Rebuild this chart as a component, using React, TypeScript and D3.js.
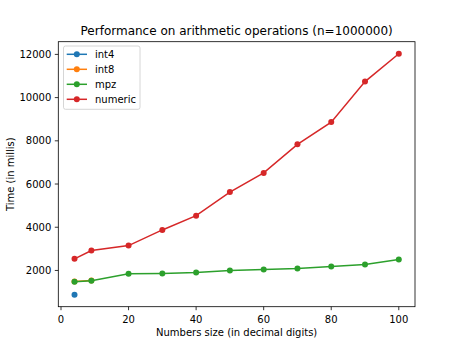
import React from "react";
import * as d3 from "d3";

const title = "Performance on arithmetic operations (n=1000000)";
const xLabel = "Numbers size (in decimal digits)";
const yLabel = "Time (in millis)";

const int4X = [4];
const int4Y = [880];
const int8X = [4, 9];
const int8Y = [1490, 1540];
const mpzX = [4, 9, 20, 30, 40, 50, 60, 70, 80, 90, 100];
const mpzY = [1479, 1525, 1848, 1862, 1908, 2000, 2046, 2092, 2184, 2276, 2507];
const numericX = [4, 9, 20, 30, 40, 50, 60, 70, 80, 90, 100];
const numericY = [2539, 2922, 3152, 3875, 4534, 5627, 6516, 7838, 8866, 10742, 12030];

const seriesNames = ["int4", "int8", "mpz", "numeric"];
const colors = ["#1f77b4", "#ff7f0e", "#2ca02c", "#d62728"];
const xTicks = [0, 20, 40, 60, 80, 100];
const yTicks = [2000, 4000, 6000, 8000, 10000, 12000];

export default function App() {
  const W = 460, H = 345;
  const left = 58.3, right = 415, top = 41.7, bottom = 306.7;
  const series = [
    { name: seriesNames[0], xs: int4X, ys: int4Y, color: colors[0] },
    { name: seriesNames[1], xs: int8X, ys: int8Y, color: colors[1] },
    { name: seriesNames[2], xs: mpzX, ys: mpzY, color: colors[2] },
    { name: seriesNames[3], xs: numericX, ys: numericY, color: colors[3] },
  ];
  const allX = series.flatMap((s) => s.xs);
  const allY = series.flatMap((s) => s.ys);
  const [x0, x1] = d3.extent(allX) as [number, number];
  const [y0, y1] = d3.extent(allY) as [number, number];
  const mx = (x1 - x0) * 0.05, my = (y1 - y0) * 0.05;
  const x = d3.scaleLinear().domain([x0 - mx, x1 + mx]).range([left, right]);
  const y = d3.scaleLinear().domain([y0 - my, y1 + my]).range([bottom, top]);
  const line = d3.line<[number, number]>().x((d) => x(d[0])).y((d) => y(d[1]));
  const font = "DejaVu Sans, sans-serif";
  const legX = 63.5, legY = 46, legW = 76.5, legH = 63.3;
  return (
    <svg width={W} height={H} style={{ position: "absolute", left: 0, top: 0 }} fontFamily={font}>
      <rect x={0} y={0} width={W} height={H} fill="#fff" />
      {series.map((s) => (
        <g key={s.name}>
          <path d={line(s.xs.map((v, i) => [v, s.ys[i]]) as [number, number][]) || ""} fill="none" stroke={s.color} strokeWidth={1.5} />
          {s.xs.map((v, i) => (
            <circle key={i} cx={x(v)} cy={y(s.ys[i])} r={3} fill={s.color} />
          ))}
        </g>
      ))}
      <rect x={left} y={top} width={right - left} height={bottom - top} fill="none" stroke="#000" strokeWidth={0.8} />
      {xTicks.map((t) => (
        <g key={t}>
          <line x1={x(t)} x2={x(t)} y1={bottom} y2={bottom + 3.5} stroke="#000" strokeWidth={0.8} />
          <text x={x(t)} y={bottom + 16.5} fontSize={10} textAnchor="middle" fill="#000">{t}</text>
        </g>
      ))}
      {yTicks.map((t) => (
        <g key={t}>
          <line x1={left - 3.5} x2={left} y1={y(t)} y2={y(t)} stroke="#000" strokeWidth={0.8} />
          <text x={left - 7} y={y(t) + 3.6} fontSize={10} textAnchor="end" fill="#000">{t}</text>
        </g>
      ))}
      <text x={(left + right) / 2} y={336} fontSize={10} textAnchor="middle" fill="#000">{xLabel}</text>
      <text transform={`translate(13.5,${(top + bottom) / 2}) rotate(-90)`} fontSize={10} textAnchor="middle" fill="#000">{yLabel}</text>
      <text x={(left + right) / 2} y={35} fontSize={12} textAnchor="middle" fill="#000">{title}</text>
      <rect x={legX} y={legY} width={legW} height={legH} rx={2} fill="#fff" fillOpacity={0.8} stroke="#ccc" strokeWidth={0.8} />
      {series.map((s, i) => {
        const cy = 54.3 + i * 15;
        return (
          <g key={s.name}>
            <line x1={66.7} x2={87} y1={cy} y2={cy} stroke={s.color} strokeWidth={1.5} />
            <circle cx={76.8} cy={cy} r={3} fill={s.color} />
            <text x={95} y={cy + 3.5} fontSize={10} fill="#000">{s.name}</text>
          </g>
        );
      })}
    </svg>
  );
}
